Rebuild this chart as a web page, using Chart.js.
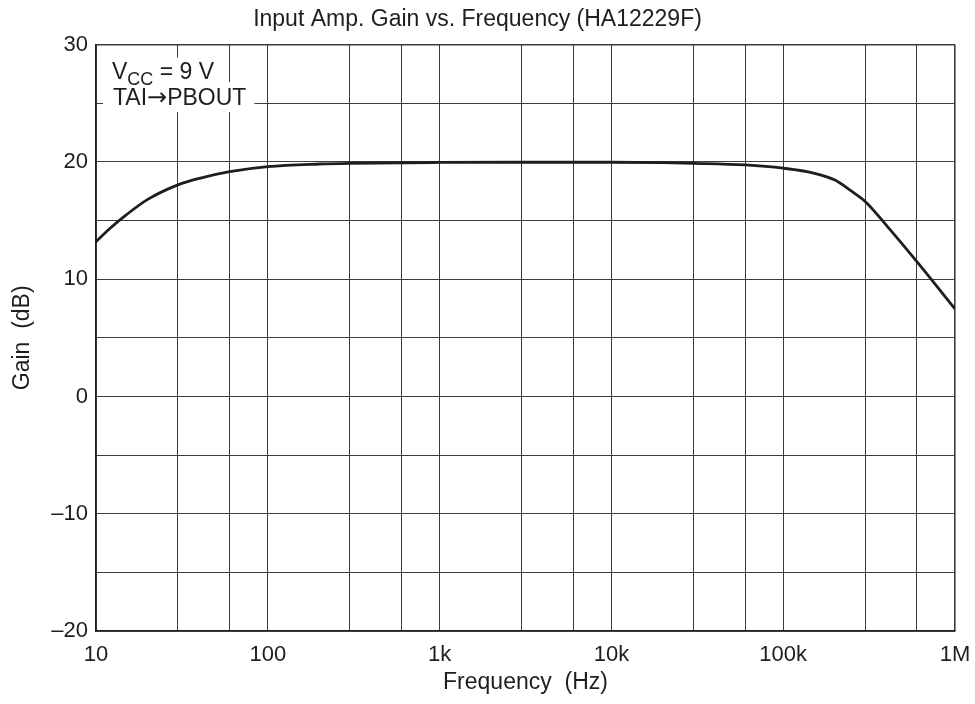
<!DOCTYPE html>
<html>
<head>
<meta charset="utf-8">
<title>Input Amp. Gain vs. Frequency (HA12229F)</title>
<script src="https://cdn.jsdelivr.net/npm/chart.js@4/dist/chart.umd.min.js"></script>
<style>
  html, body { margin: 0; padding: 0; background: #fff; }
  #wrap { width: 975px; height: 704px; position: relative; }
</style>
</head>
<body>
<div id="wrap"><canvas id="gainChart" width="975" height="704"></canvas></div>
<script>
// curve (Hz, dB)
const frequencyHz = [10, 12, 15, 20, 30, 40, 60, 100, 200, 300, 1000, 3000, 10000,
  20000, 30000, 60000, 100000, 150000, 200000, 250000, 300000, 400000, 600000, 1000000];
const gainDb = [13.2, 14.3, 15.48, 16.8, 18.04, 18.6, 19.17, 19.6, 19.82, 19.88, 19.95, 19.97, 19.97,
  19.93, 19.88, 19.74, 19.46, 19.05, 18.45, 17.5, 16.62, 14.57, 11.5, 7.47];

// axis grid + labels
const freqGrid = [10, 30, 60, 100, 300, 600, 1000, 3000, 6000, 10000, 30000, 60000,
  100000, 300000, 600000, 1000000];
const freqLabelValues = [10, 100, 1000, 10000, 100000, 1000000];
const freqLabels = ["10", "100", "1k", "10k", "100k", "1M"];
const gainLabelValues = [30, 20, 10, 0, -10, -20];
const gainLabels = ["30", "20", "10", "0", "–10", "–20"];

const FONT = "'Liberation Sans', Arial, Helvetica, sans-serif";
const INK = "#1e1e1e";
const GRID = "#3c3c3c";

// white boxes + condition text in the upper-left corner
const notePlugin = {
  id: "note",
  afterDatasetsDraw(chart) {
    const { ctx, chartArea } = chart;
    const left = chartArea.left;
    const top = chartArea.top;
    ctx.save();
    ctx.textBaseline = "alphabetic";
    ctx.textAlign = "left";

    const big = "23px " + FONT;
    const small = "18px " + FONT;
    const arrowFont = "24px 'DejaVu Sans', sans-serif";

    // line 1: V_CC = 9 V
    const x = left + 16;
    const y = top + 34;
    ctx.font = big;
    const wV = ctx.measureText("V").width;
    const wRest = ctx.measureText(" = 9 V").width;
    ctx.font = small;
    const wSub = ctx.measureText("CC").width;

    // line 2: TAI→PBOUT
    const x2 = left + 17;
    const y2 = top + 60.5;
    ctx.font = big;
    const wTai = ctx.measureText("TAI").width;
    const wOut = ctx.measureText("PBOUT").width;
    ctx.font = arrowFont;
    const wArrow = ctx.measureText("→").width;

    ctx.fillStyle = "#fff";
    ctx.fillRect(x - 8, top + 13, wV + wSub + wRest + 16, 28);
    ctx.fillRect(x2 - 10, y2 - 23, wTai + wArrow + wOut + 18, 30);

    ctx.fillStyle = INK;
    ctx.font = big;
    ctx.fillText("V", x, y);
    ctx.font = small;
    ctx.fillText("CC", x + wV, y + 6);
    ctx.font = big;
    ctx.fillText(" = 9 V", x + wV + wSub, y);

    ctx.fillText("TAI", x2, y2);
    ctx.font = arrowFont;
    ctx.fillText("→", x2 + wTai, y2);
    ctx.font = big;
    ctx.fillText("PBOUT", x2 + wTai + wArrow, y2);
    ctx.restore();
  },
};

const edgeWidth = (ctx, count) =>
  ctx.index === 0 || ctx.index === count - 1 ? 1.6 : 1;

const ctx = document.getElementById("gainChart").getContext("2d");

new Chart(ctx, {
  type: "line",
  data: {
    datasets: [
      {
        label: "Gain",
        data: frequencyHz.map((f, i) => ({ x: f, y: gainDb[i] })),
        borderColor: INK,
        borderWidth: 2.8,
        pointRadius: 0,
        fill: false,
        cubicInterpolationMode: "monotone",
      },
    ],
  },
  options: {
    responsive: false,
    animation: false,
    devicePixelRatio: 1,
    layout: { padding: { left: 0, right: 20, top: 0, bottom: 0 } },
    plugins: {
      legend: { display: false },
      tooltip: { enabled: false },
      title: {
        display: true,
        text: "Input Amp. Gain vs. Frequency (HA12229F)",
        color: INK,
        font: { family: FONT, size: 23, weight: "normal" },
        padding: { top: 6, bottom: 11 },
      },
    },
    scales: {
      x: {
        type: "logarithmic",
        min: 10,
        max: 1000000,
        afterBuildTicks: (scale) => {
          scale.ticks = freqGrid.map((v) => ({ value: v }));
        },
        afterFit: (scale) => {
          scale.height = 73;
          scale.paddingLeft = 0;
          scale.paddingRight = 0;
        },
        ticks: {
          autoSkip: false,
          maxRotation: 0,
          padding: 11,
          color: INK,
          font: { family: FONT, size: 22 },
          callback: (value) => {
            const i = freqLabelValues.indexOf(value);
            return i >= 0 ? freqLabels[i] : "";
          },
        },
        grid: {
          color: GRID,
          lineWidth: (c) => edgeWidth(c, freqGrid.length),
          drawTicks: false,
        },
        border: { color: INK, width: 1.8 },
        title: {
          display: true,
          text: "Frequency  (Hz)",
          color: INK,
          font: { family: FONT, size: 23 },
          padding: { top: 0, bottom: 8 },
        },
      },
      y: {
        type: "linear",
        min: -20,
        max: 30,
        afterFit: (scale) => {
          scale.width = 96;
        },
        ticks: {
          stepSize: 5,
          padding: 8,
          color: INK,
          font: { family: FONT, size: 22 },
          callback: (value) => {
            const i = gainLabelValues.indexOf(value);
            return i >= 0 ? gainLabels[i] : "";
          },
        },
        grid: {
          color: GRID,
          lineWidth: (c) => edgeWidth(c, 11),
          drawTicks: false,
        },
        border: { color: INK, width: 1.8 },
        title: {
          display: true,
          text: "Gain  (dB)",
          color: INK,
          font: { family: FONT, size: 23 },
          padding: { top: 9, bottom: 0 },
        },
      },
    },
  },
  plugins: [notePlugin],
});
</script>
</body>
</html>
